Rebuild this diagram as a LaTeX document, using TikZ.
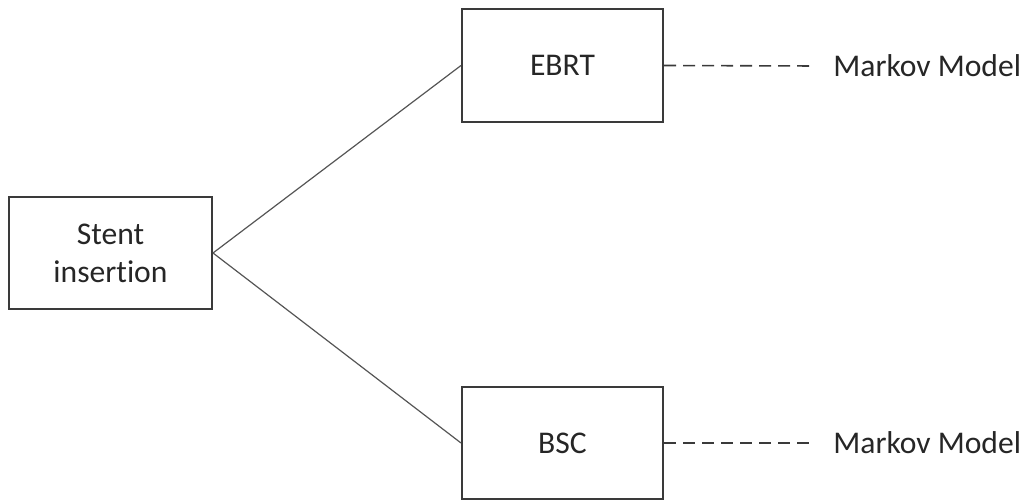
\documentclass[tikz,border=0pt]{standalone}
\usepackage{fontspec}
\setmainfont{Carlito}[Ligatures={NoCommon}]
\usetikzlibrary{positioning}
\definecolor{boxline}{HTML}{3A3A3A}
\definecolor{linkline}{HTML}{555555}
\definecolor{txt}{HTML}{262626}
\tikzset{every node/.style={text=txt, font=\fontsize{15.8}{19}\selectfont},
  treebox/.style={draw=boxline, line width=1pt, minimum width=100.5pt, minimum height=56.5pt, align=center},
  branch/.style={linkline, line width=0.6pt},
  followup/.style={boxline, line width=0.8pt, dash pattern=on 6pt off 3.5pt}}

\begin{document}
\begin{tikzpicture}[x=0.5pt,y=-0.5pt]
  \useasboundingbox (0,0) rectangle (1029,501);
  \node[treebox, minimum width=101.5pt, minimum height=56pt] (stent) at (110.5,253) {Stent\\insertion};
  \node[treebox] (ebrt) at (562.5,65.5) {EBRT};
  \node[treebox, minimum height=56pt] (bsc) at (562.5,443) {BSC};
  \node[anchor=west, inner xsep=9pt, inner ysep=0pt] (markovA) at (815,66) {Markov Model};
  \node[anchor=west, inner xsep=9pt, inner ysep=0pt] (markovB) at (815,443) {Markov Model};
  \draw[branch] (stent.east) -- (ebrt.west);
  \draw[branch] (stent.east) -- (bsc.west);
  \draw[followup] (ebrt.east) -- (markovA.west);
  \draw[followup] (bsc.east) -- (markovB.west);
\end{tikzpicture}
\end{document}
